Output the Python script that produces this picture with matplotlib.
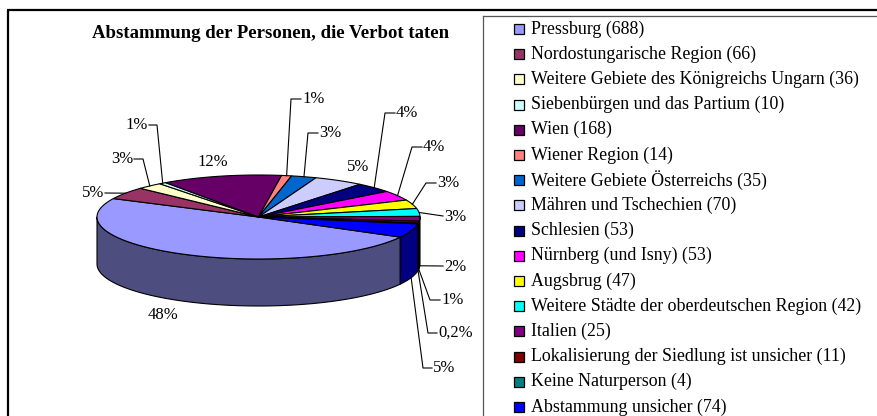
import numpy as np
import matplotlib
matplotlib.use('Agg')
import matplotlib.pyplot as plt
from matplotlib.patches import Polygon, Rectangle
from matplotlib.colors import to_rgb

# Daten
categories = ['Pressburg', 'Nordostungarische Region', 'Weitere Gebiete des Königreichs Ungarn',
              'Siebenbürgen und das Partium', 'Wien', 'Wiener Region', 'Weitere Gebiete Österreichs',
              'Mähren und Tschechien', 'Schlesien', 'Nürnberg (und Isny)', 'Augsbrug',
              'Weitere Städte der oberdeutschen Region', 'Italien', 'Lokalisierung der Siedlung ist unsicher',
              'Keine Naturperson', 'Abstammung unsicher']
counts = [688, 66, 36, 10, 168, 14, 35, 70, 53, 53, 47, 42, 25, 11, 4, 74]
pct_labels = ['48%', '5%', '3%', '1%', '12%', '1%', '3%', '5%', '4%', '4%', '3%', '3%',
              '2%', '1%', '0,2%', '5%']
colors = ['#9999FF', '#993366', '#FFFFCC', '#CCFFFF', '#660066', '#FF8080', '#0066CC', '#CCCCFF',
          '#000080', '#FF00FF', '#FFFF00', '#00FFFF', '#800080', '#800000', '#008080', '#0000FF']

title = 'Abstammung der Personen, die Verbot taten'

# Geometrie (Pixel)
CX, CY = 258.5, 217
RX, RY = 161.5, 42
DEPTH = 47
START = -28.6   # Grad, im Uhrzeigersinn

# Position der Prozentangaben, Knick der Führungslinie, Ende der Linie
# None = keine Linie; 'bottom' -> Linie beginnt am unteren Rand
label_pos = [
    ((163, 315), None, None, 'top'),
    ((92, 193), None, (105, 193), 'top'),
    ((121, 159), (143, 159), (134, 159), 'top'),
    ((135, 125), (157, 125), (149, 125), 'top'),
    ((213, 162), None, None, 'top'),
    ((313, 99), (291, 99), (301, 99), 'top'),
    ((331, 133), (308, 133), (318, 133), 'top'),
    ((358, 167), None, None, 'top'),
    ((407, 113), (385, 113), (395, 113), 'top'),
    ((435, 147), (412, 147), (422, 147), 'top'),
    ((448, 183), (426, 183), (436, 183), 'top'),
    ((455, 217), None, (443, 216), 'top'),
    ((455, 267), None, (443, 266), 'bottom'),
    ((452, 300), (430, 300), (440, 300), 'bottom'),
    ((458, 333), (428, 333), (437, 333), 'bottom'),
    ((445, 368), (423, 368), (432, 368), 'bottom'),
]

plt.rcParams['font.family'] = ['Liberation Serif', 'DejaVu Serif']

fig = plt.figure(figsize=(8.77, 4.16), dpi=100)
ax = fig.add_axes([0, 0, 1, 1])
ax.set_xlim(0, 877)
ax.set_ylim(416, 0)
ax.axis('off')


def pt(a, dz=0.0):
    r = np.radians(a)
    return CX + RX * np.cos(r), CY - RY * np.sin(r) + dz


def arc(a1, a2, dz=0.0, n=None):
    if n is None:
        n = max(int(abs(a1 - a2) * 1.5), 2)
    t = np.radians(np.linspace(a1, a2, n))
    return np.column_stack([CX + RX * np.cos(t), CY - RY * np.sin(t) + dz])


def darker(c, f=0.5):
    return tuple(v * f for v in to_rgb(c))


total = float(sum(counts))
spans = [c / total * 360 for c in counts]
starts = START - np.concatenate([[0], np.cumsum(spans)[:-1]])
ends = starts - np.array(spans)

# Seitenflächen (nur vorne sichtbar)
for s, e, col in zip(starts, ends, colors):
    for k in (-1, 0, 1):
        lo = max(e, -180 + 360 * k)
        hi = min(s, 360 * k)
        if hi - lo > 1e-6:
            top = arc(hi, lo)
            bot = arc(lo, hi, DEPTH)
            ax.add_patch(Polygon(np.vstack([top, bot]), closed=True, facecolor=darker(col),
                                 edgecolor='black', lw=0.8, joinstyle='round', zorder=2))

# Deckfläche
for s, e, col in zip(starts, ends, colors):
    pts = np.vstack([[CX, CY], arc(s, e)])
    ax.add_patch(Polygon(pts, closed=True, facecolor=col, edgecolor='black', lw=0.8,
                         joinstyle='round', zorder=3))

# Prozentangaben mit Führungslinien
for i, (s, e) in enumerate(zip(starts, ends)):
    (tx, ty), elbow, end, where = label_pos[i]
    mid = (s + e) / 2
    if end is not None:
        x0, y0 = pt(mid, DEPTH if where == 'bottom' else 0)
        xs, ys = [x0], [y0]
        if elbow is not None:
            xs.append(elbow[0]); ys.append(elbow[1])
        xs.append(end[0]); ys.append(end[1])
        ax.plot(xs, ys, color='black', lw=0.8, zorder=4)
    if tx < CX - 100 and end is not None:
        ax.text(end[0] - 1, ty, pct_labels[i], ha='right', va='center', fontsize=12, zorder=5)
    elif end is not None:
        ax.text(end[0] + 1, ty, pct_labels[i], ha='left', va='center', fontsize=12, zorder=5)
    else:
        ax.text(tx, ty, pct_labels[i], ha='center', va='center', fontsize=12, zorder=5)

ax.text(271, 33, title, ha='center', va='center', fontsize=13.5, fontweight='bold', zorder=5)

# Rahmen
ax.plot([7, 877], [10, 10], color='black', lw=1.6, solid_capstyle='butt', zorder=6)
ax.plot([7.5, 7.5], [10, 416], color='black', lw=1.6, solid_capstyle='butt', zorder=6)
ax.plot([483, 483], [16, 416], color='#555555', lw=0.9, zorder=6)
ax.plot([483, 877], [16, 16], color='#555555', lw=0.9, zorder=6)

# Legende
for i, (name, n, col) in enumerate(zip(categories, counts, colors)):
    y = 29 + i * 25.2
    ax.add_patch(Rectangle((514, y - 5), 10, 10, facecolor=col, edgecolor='black', lw=0.9, zorder=6))
    ax.text(531, y, f'{name} ({n})', ha='left', va='center', fontsize=12.9, zorder=6)

fig.savefig('out.png', dpi=100)
